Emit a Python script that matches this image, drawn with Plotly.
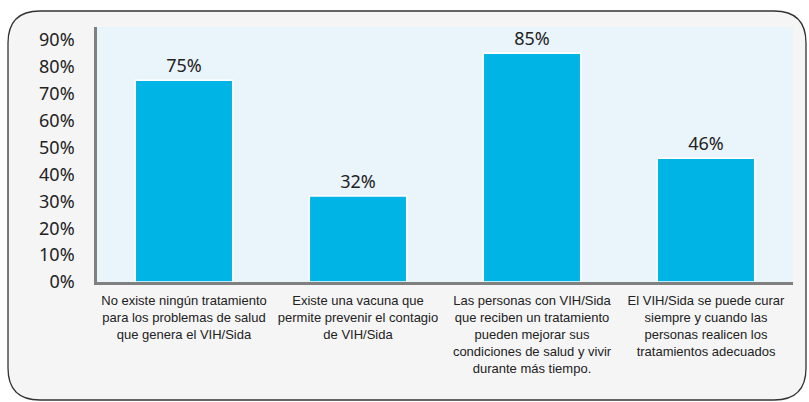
import plotly.graph_objects as go

categories = [
    "No existe ningún tratamiento<br>para los problemas de salud<br>que genera el VIH/Sida",
    "Existe una vacuna que<br>permite prevenir el contagio<br>de VIH/Sida",
    "Las personas con VIH/Sida<br>que reciben un tratamiento<br>pueden mejorar sus<br>condiciones de salud y vivir<br>durante más tiempo.",
    "El VIH/Sida se puede curar<br>siempre y cuando las<br>personas realicen los<br>tratamientos adecuados",
]
values = [75, 32, 85, 46]
labels = ["75%", "32%", "85%", "46%"]
y_ticks = [0, 10, 20, 30, 40, 50, 60, 70, 80, 90]
y_ticktext = ["0%", "10%", "20%", "30%", "40%", "50%", "60%", "70%", "80%", "90%"]

W, H = 809, 402
L, R, T, B = 97, 16, 27, 120
pw, ph = W - L - R, H - T - B

def px2paper(x, y):
    return (x - L) / pw, (H - B - y) / ph

# rounded border
x0, y0, x1, y1, rad = 8, 11, 806, 400, 32
def P(x, y):
    u, v = px2paper(x, y)
    return f"{u:.5f},{v:.5f}"
path = (f"M {P(x0+rad, y0)} L {P(x1-rad, y0)} Q {P(x1, y0)} {P(x1, y0+rad)} "
        f"L {P(x1, y1-rad)} Q {P(x1, y1)} {P(x1-rad, y1)} "
        f"L {P(x0+rad, y1)} Q {P(x0, y1)} {P(x0, y1-rad)} "
        f"L {P(x0, y0+rad)} Q {P(x0, y0)} {P(x0+rad, y0)} Z")

fig = go.Figure()
fig.add_trace(go.Bar(
    x=list(range(len(categories))), y=values, text=labels,
    textposition="outside", cliponaxis=False,
    textfont=dict(family="Noto Sans, Open Sans, sans-serif", size=18, color="#222222"),
    marker=dict(color="#00B5E6", line=dict(color="#FFFFFF", width=1.5)),
    width=0.56,
))

fig.update_layout(
    width=W, height=H,
    margin=dict(l=L, r=R, t=T, b=B, autoexpand=False),
    paper_bgcolor="#FFFFFF",
    plot_bgcolor="rgba(0,0,0,0)",
    showlegend=False,
    bargap=0.44,
    shapes=[
        dict(type="path", path=path, xref="paper", yref="paper",
             fillcolor="#F5F5F5", line=dict(color="#333333", width=1.3), layer="below"),
        dict(type="rect", xref="paper", yref="paper", x0=0, x1=1, y0=0, y1=1,
             fillcolor="#EAF4FB", line=dict(width=0), layer="below"),
    ],
)
fig.update_xaxes(
    range=[-0.5, 3.5], tickvals=list(range(len(categories))), ticktext=categories,
    showgrid=False, zeroline=False, showline=True, linecolor="#808080", linewidth=2.5,
    ticks="outside", ticklen=5, tickcolor="rgba(0,0,0,0)", tickangle=0, automargin=False,
    tickfont=dict(family="Liberation Sans Narrow, Arial Narrow, Liberation Sans, Arial, sans-serif",
                  size=13, color="#222222"),
)
fig.update_yaxes(
    range=[0, 94.8], tickvals=y_ticks, ticktext=y_ticktext,
    showgrid=False, zeroline=False, showline=True, linecolor="#808080", linewidth=2.5,
    ticks="", ticklabelstandoff=16, automargin=False,
    tickfont=dict(family="Noto Sans, Open Sans, sans-serif", size=18, color="#222222"),
)

fig.write_html("out.html", config={"displayModeBar": False},
               post_script="document.body.style.margin='0';document.body.style.padding='0';")
